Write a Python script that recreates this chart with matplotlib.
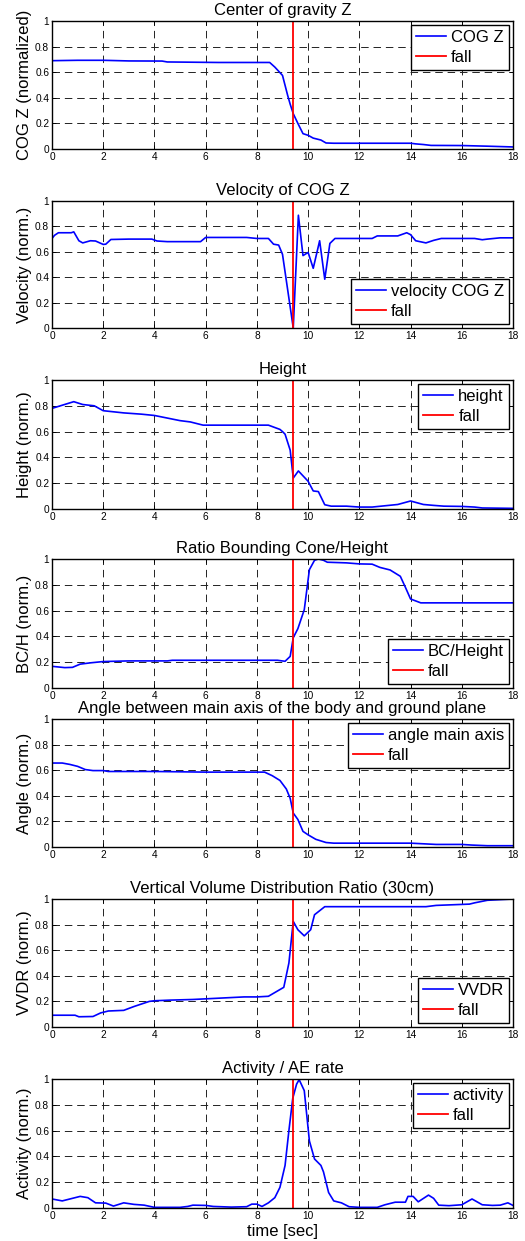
import matplotlib
matplotlib.use("Agg")
import matplotlib.pyplot as plt

plt.rcParams['font.family'] = ['Liberation Sans', 'DejaVu Sans']

fall_time = 9.42

titles = ["Center of gravity Z", "Velocity of COG Z", "Height", "Ratio Bounding Cone/Height",
          "Angle between main axis of the body and ground plane",
          "Vertical Volume Distribution Ratio (30cm)", "Activity / AE rate"]
ylabels = ["COG Z (normalized)", "Velocity (norm.)", "Height (norm.)", "BC/H (norm.)",
           "Angle (norm.)", "VVDR (norm.)", "Activity (norm.)"]
series_names = ["COG Z", "velocity COG Z", "height", "BC/Height", "angle main axis", "VVDR", "activity"]
legend_locs = ["upper right", "lower right", "upper right", "lower right", "upper right", "lower right", "upper right"]

cog_t = [0, 1, 2, 3, 4.3, 4.5, 6.5, 8.5, 8.7, 9.0, 9.2, 9.3, 9.42, 9.6, 9.8, 10.0, 10.2, 10.5, 10.7, 11,
         14, 14.2, 14.5, 14.8, 16, 17, 18]
cog_v = [0.69, 0.693, 0.693, 0.688, 0.687, 0.68, 0.676, 0.676, 0.64, 0.575, 0.42, 0.35, 0.276, 0.2, 0.12,
         0.107, 0.085, 0.07, 0.047, 0.045, 0.045, 0.04, 0.035, 0.028, 0.027, 0.022, 0.016]

vel_t = [0, 0.1, 0.25, 0.75, 0.85, 1.05, 1.2, 1.5, 1.7, 2.0, 2.1, 2.3, 3.0, 3.9, 4.1, 4.5, 5.8, 6.0, 7.6, 8.0,
         8.45, 8.65, 8.85, 9.0, 9.42, 9.62, 9.8, 10.0, 10.2, 10.45, 10.65, 10.85, 11.05, 12.5, 12.7, 13.5,
         13.85, 14.0, 14.2, 14.6, 14.9, 15.2, 16.5, 16.8, 17.0, 17.5, 18]
vel_v = [0.705, 0.73, 0.75, 0.75, 0.757, 0.687, 0.67, 0.687, 0.685, 0.658, 0.66, 0.697, 0.70, 0.70, 0.685,
         0.68, 0.68, 0.713, 0.713, 0.705, 0.705, 0.66, 0.653, 0.58, 0.0, 0.888, 0.57, 0.595, 0.47, 0.687,
         0.384, 0.666, 0.705, 0.705, 0.725, 0.725, 0.75, 0.735, 0.687, 0.67, 0.69, 0.705, 0.705, 0.695,
         0.70, 0.71, 0.71]

hgt_t = [0, 0.85, 1.2, 1.65, 2.0, 2.8, 3.5, 4.0, 5.0, 5.4, 5.9, 8.45, 8.9, 9.0, 9.1, 9.3, 9.42, 9.62, 10.0,
         10.2, 10.4, 10.65, 10.9, 11.5, 12.0, 12.5, 13.5, 14.0, 14.5, 14.9, 15.3, 16.0, 16.5, 16.8, 18]
hgt_v = [0.78, 0.832, 0.81, 0.80, 0.762, 0.745, 0.735, 0.725, 0.685, 0.675, 0.65, 0.65, 0.617, 0.60, 0.58,
         0.456, 0.24, 0.295, 0.215, 0.14, 0.135, 0.033, 0.022, 0.022, 0.015, 0.015, 0.035, 0.062, 0.035,
         0.028, 0.022, 0.02, 0.015, 0.008, 0.005]

bch_t = [0, 0.5, 0.8, 1.1, 1.5, 2.0, 3.0, 4.5, 4.7, 8.8, 9.1, 9.3, 9.42, 9.6, 9.85, 10.05, 10.25, 10.4,
         10.6, 10.75, 11.5, 12.0, 12.5, 12.8, 13.2, 13.6, 13.8, 14.0, 14.4, 18]
bch_v = [0.168, 0.158, 0.16, 0.185, 0.195, 0.205, 0.21, 0.21, 0.215, 0.215, 0.207, 0.245, 0.39, 0.46,
         0.607, 0.917, 0.99, 1.0, 0.99, 0.975, 0.97, 0.962, 0.96, 0.935, 0.915, 0.866, 0.78, 0.69, 0.66, 0.66]

ang_t = [0, 0.4, 0.7, 1.0, 1.3, 1.6, 2.0, 2.2, 4.0, 6.0, 8.3, 8.6, 8.9, 9.15, 9.3, 9.42, 9.6, 9.8, 10.0,
         10.3, 10.7, 11.0, 14.0, 14.5, 15.0, 16.0, 16.4, 17.0, 18]
ang_v = [0.656, 0.656, 0.645, 0.63, 0.605, 0.597, 0.597, 0.59, 0.59, 0.585, 0.585, 0.557, 0.52, 0.453,
         0.38, 0.265, 0.215, 0.122, 0.095, 0.06, 0.035, 0.03, 0.03, 0.025, 0.02, 0.02, 0.015, 0.01, 0.01]

vvdr_t = [0, 0.9, 1.05, 1.6, 1.9, 2.2, 2.8, 3.2, 3.8, 4.0, 4.6, 5.5, 6.5, 7.5, 8.0, 8.45, 9.05, 9.25,
          9.42, 9.6, 9.85, 10.1, 10.25, 10.65, 14.6, 15.0, 16.3, 16.5, 17.0, 18]
vvdr_v = [0.092, 0.092, 0.08, 0.082, 0.11, 0.125, 0.13, 0.16, 0.2, 0.205, 0.21, 0.215, 0.225, 0.235,
          0.235, 0.24, 0.31, 0.5, 0.825, 0.76, 0.712, 0.76, 0.877, 0.94, 0.94, 0.95, 0.96, 0.97, 0.99, 1.0]

act_t = [0, 0.4, 0.7, 1.1, 1.4, 1.7, 2.1, 2.4, 2.8, 3.2, 3.6, 4.0, 5.0, 5.3, 5.5, 6.0, 6.3, 7.0, 7.6, 7.8,
         8.0, 8.2, 8.45, 8.7, 8.9, 9.1, 9.25, 9.4, 9.55, 9.65, 9.85, 10.05, 10.25, 10.5, 10.6, 10.8, 11.0,
         11.3, 11.6, 12.0, 12.7, 13.0, 13.4, 13.8, 13.9, 14.1, 14.3, 14.7, 14.9, 15.1, 15.5, 16.0, 16.4,
         16.8, 17.2, 17.5, 17.8, 18]
act_v = [0.07, 0.055, 0.07, 0.09, 0.08, 0.04, 0.038, 0.015, 0.04, 0.028, 0.022, 0.005, 0.005, 0.012,
         0.022, 0.02, 0.012, 0.007, 0.01, 0.03, 0.03, 0.012, 0.04, 0.08, 0.16, 0.33, 0.6, 0.85, 0.96,
         0.995, 0.91, 0.52, 0.38, 0.33, 0.28, 0.12, 0.055, 0.04, 0.01, 0.005, 0.005, 0.025, 0.045, 0.045,
         0.09, 0.09, 0.048, 0.1, 0.075, 0.022, 0.018, 0.025, 0.07, 0.025, 0.02, 0.022, 0.04, 0.02]

times = [cog_t, vel_t, hgt_t, bch_t, ang_t, vvdr_t, act_t]
values = [cog_v, vel_v, hgt_v, bch_v, ang_v, vvdr_v, act_v]

xticks = [0, 2, 4, 6, 8, 10, 12, 14, 16, 18]
yticks = [0, 0.2, 0.4, 0.6, 0.8, 1]
yticklabels = ["0", "0.2", "0.4", "0.6", "0.8", "1"]

W, H = 525, 1241
fig = plt.figure(figsize=(W / 100, H / 100), dpi=100)

# axes pixel boxes (top, bottom)
boxes = [(21, 149), (201, 328), (380, 509), (559, 688), (719, 847), (899, 1027), (1079, 1208)]
left, right = 52, 513

for i in range(7):
    top, bot = boxes[i]
    ax = fig.add_axes([left / W, 1 - bot / H, (right - left) / W, (bot - top) / H])
    ax.plot(times[i], values[i], color='#0000ff', lw=1.2, label=series_names[i])
    ax.axvline(fall_time, color='#ff0000', lw=1.3, label='fall')
    ax.set_xlim(0, 18)
    ax.set_ylim(0, 1)
    ax.set_xticks(xticks)
    ax.set_yticks(yticks)
    ax.set_yticklabels(yticklabels)
    ax.tick_params(direction='in', length=3, labelsize=7.3, top=True, right=True, pad=2, width=0.6)
    ax.grid(True, color='#222222', linestyle=(0, (7.7, 5)), linewidth=0.7)
    for s in ax.spines.values():
        s.set_linewidth(1.0)
    ax.set_title(titles[i], fontsize=12, pad=4)
    ax.set_ylabel(ylabels[i], fontsize=12, labelpad=2)
    leg = ax.legend(loc=legend_locs[i], fontsize=12, fancybox=False, framealpha=1,
                    edgecolor='black', handlelength=1.8, handletextpad=0.3, borderpad=0.3,
                    labelspacing=0.3, borderaxespad=0.25)
    leg.get_frame().set_linewidth(1.0)
    if i == 6:
        ax.set_xlabel("time [sec]", fontsize=12, labelpad=2)

fig.savefig("out.png", dpi=100)
